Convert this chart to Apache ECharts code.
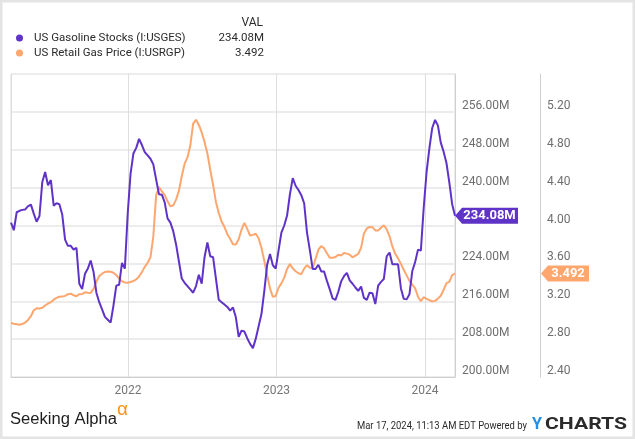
<!DOCTYPE html>
<html><head><meta charset="utf-8">
<script src="https://cdn.jsdelivr.net/npm/echarts@6/dist/echarts.min.js"></script>
<style>html,body{margin:0;padding:0;background:#fff}#c{width:635px;height:439px}</style>
</head><body><div id="c"></div><script>
// Weekly observations, first week ending 2021-03-19
const firstWeek = '2021-03-19';
const stockName = 'US Gasoline Stocks (I:USGES)';
const priceName = 'US Retail Gas Price (I:USRGP)';
// US gasoline stocks, millions of barrels
const gasolineStocks = [
 232.6, 231.0, 234.8, 235.1, 235.3, 235.4, 236.1, 236.4, 234.5, 232.8,
 234.0, 241.2, 243.3, 240.5, 241.6, 236.2, 236.7, 236.5, 234.3, 229.0,
 227.7, 227.7, 226.9, 227.3, 219.7, 218.6, 221.8, 222.9, 224.6, 222.2,
 217.8, 215.8, 214.3, 212.7, 212.1, 211.5, 215.1, 219.3, 219.5, 224.1,
 222.9, 234.4, 242.9, 247.2, 248.4, 250.3, 249.0, 247.5, 246.8, 246.1,
 244.9, 241.7, 238.6, 238.5, 236.9, 233.5, 232.6, 230.8, 228.0, 224.4,
 220.8, 219.9, 219.2, 218.5, 217.8, 219.2, 221.6, 219.7, 225.3, 228.4,
 225.5, 225.3, 220.8, 216.3, 215.8, 215.3, 214.8, 214.0, 214.7, 212.6,
 208.5, 209.8, 209.6, 208.2, 207.0, 206.1, 208.1, 210.7, 213.3, 218.2,
 223.7, 226.0, 223.6, 222.9, 226.7, 230.5, 232.0, 234.1, 238.6, 242.0,
 240.4, 239.5, 238.4, 236.7, 230.5, 226.8, 222.8, 222.8, 223.7, 222.3,
 222.3, 220.3, 218.5, 216.6, 216.3, 218.0, 220.2, 221.3, 222.0, 220.4,
 219.7, 218.9, 218.2, 219.1, 216.7, 216.3, 217.8, 217.7, 215.4, 219.3,
 220.1, 220.7, 225.5, 226.3, 223.8, 223.8, 223.8, 218.7, 216.5, 216.4,
 217.5, 222.4, 224.3, 226.9, 226.7, 235.7, 243.2, 248.3, 252.6, 254.3,
 253.1, 249.5, 247.6, 245.2, 241.1, 236.5, 234.08
];
// US retail gas price, USD per gallon
const gasPrices = [
 2.970, 2.962, 2.957, 2.952, 2.959, 2.976, 3.003, 3.042, 3.105, 3.125,
 3.124, 3.132, 3.155, 3.175, 3.190, 3.217, 3.236, 3.248, 3.249, 3.257,
 3.275, 3.280, 3.263, 3.253, 3.275, 3.277, 3.294, 3.289, 3.288, 3.331,
 3.406, 3.467, 3.491, 3.509, 3.515, 3.511, 3.501, 3.475, 3.438, 3.411,
 3.399, 3.396, 3.404, 3.413, 3.431, 3.461, 3.509, 3.563, 3.607, 3.664,
 3.885, 4.320, 4.405, 4.361, 4.320, 4.256, 4.204, 4.213, 4.273, 4.367,
 4.520, 4.653, 4.719, 4.844, 5.076, 5.116, 5.062, 4.983, 4.883, 4.761,
 4.589, 4.431, 4.249, 4.132, 4.043, 3.984, 3.908, 3.859, 3.802, 3.799,
 3.854, 3.957, 4.027, 3.964, 3.894, 3.901, 3.913, 3.866, 3.762, 3.625,
 3.474, 3.336, 3.246, 3.256, 3.343, 3.389, 3.449, 3.542, 3.592, 3.547,
 3.517, 3.495, 3.486, 3.545, 3.581, 3.553, 3.553, 3.647, 3.744, 3.782,
 3.760, 3.708, 3.659, 3.659, 3.668, 3.690, 3.684, 3.710, 3.703, 3.692,
 3.664, 3.681, 3.699, 3.764, 3.914, 3.969, 3.985, 3.982, 3.948, 3.948,
 3.977, 4.002, 3.960, 3.885, 3.779, 3.701, 3.653, 3.595, 3.532, 3.473,
 3.415, 3.375, 3.336, 3.247, 3.200, 3.245, 3.225, 3.211, 3.200, 3.204,
 3.230, 3.258, 3.321, 3.392, 3.405, 3.477, 3.492
];
const xTickLabels = ['2022', '2023', '2024'];

const DAY = 864e5;
const t0 = Date.parse(firstWeek + 'T00:00:00Z');
const dates = gasolineStocks.map((_, i) => t0 + i * 7 * DAY);
const lastDate = dates[dates.length - 1];
const lastStock = gasolineStocks[gasolineStocks.length - 1];
const lastPrice = gasPrices[gasPrices.length - 1];
const PURPLE = '#5f33c8';
const ORANGE = '#fda66e';
const legendVals = {};
legendVals[stockName] = lastStock.toFixed(2) + 'M';
legendVals[priceName] = lastPrice.toFixed(3);

function measure(text, font) {
  const ctx = document.createElement('canvas').getContext('2d');
  ctx.font = font; return ctx.measureText(text).width;
}
function fitText(text, font, x, y, width, fill, extra) {
  const w = measure(text, font);
  return Object.assign({type: 'text', x: x, y: y, scaleX: width / w, silent: true,
    style: {text: text, font: font, fill: fill, align: 'left', verticalAlign: 'middle',
            textAlign: 'left', textVerticalAlign: 'middle'}}, extra || {});
}

const chart = echarts.init(document.getElementById('c'), null, {renderer: 'canvas'});
const YEAR = 365 * DAY;
chart.setOption({
  animation: false,
  textStyle: {fontFamily: 'Roboto'},
  grid: {left: 11, right: 180, top: 74, bottom: 62, show: true, borderColor: '#dadada', borderWidth: 1},
  legend: {
    orient: 'vertical', left: 16, top: 31, padding: 0, itemWidth: 7, itemHeight: 7, icon: 'circle',
    itemGap: 1, selectedMode: false,
    data: [stockName, priceName],
    textStyle: {fontFamily: 'Roboto', fontSize: 11.5, color: '#2b2b2b', lineHeight: 14,
      rich: {n: {width: 190, padding: [0, 0, 0, 6], fontSize: 11.5, color: '#2b2b2b'},
             v: {width: 40, align: 'right', fontSize: 11.5, color: '#2b2b2b'}}},
    formatter: name => '{n|' + name + '}{v|' + legendVals[name] + '}'
  },
  xAxis: {
    type: 'time', min: dates[0], max: lastDate, minInterval: YEAR, maxInterval: YEAR,
    axisLine: {lineStyle: {color: '#cfcfcf'}}, axisTick: {show: false},
    axisLabel: {color: '#777', fontSize: 12, margin: 8, showMinLabel: false, showMaxLabel: false,
      formatter: v => { const y = String(new Date(v).getUTCFullYear()); return xTickLabels.indexOf(y) >= 0 ? y : ''; }},
    splitLine: {show: true, lineStyle: {color: '#dedede', width: 1}}
  },
  yAxis: [{
    type: 'value', position: 'right', min: 200, max: 264, interval: 8,
    axisLine: {show: true, lineStyle: {color: '#cfcfcf'}}, axisTick: {show: false},
    axisLabel: {color: '#6e6e6e', fontSize: 12, margin: 7, verticalAlign: 'bottom', showMaxLabel: false,
      formatter: v => Math.abs(v - lastStock) < 3 ? '' : v.toFixed(2) + 'M'},
    splitLine: {lineStyle: {color: '#ececec', width: 2}}
  }, {
    type: 'value', position: 'right', offset: 85, min: 2.4, max: 5.6, interval: 0.4,
    axisLine: {show: true, lineStyle: {color: '#cfcfcf'}}, axisTick: {show: false},
    axisLabel: {color: '#6e6e6e', fontSize: 12, margin: 7, verticalAlign: 'bottom', showMaxLabel: false,
      formatter: v => v.toFixed(2)},
    splitLine: {show: false}
  }],
  series: [{
    name: priceName, type: 'line', yAxisIndex: 1, showSymbol: false, z: 2,
    data: dates.map((d, i) => [d, gasPrices[i]]),
    lineStyle: {width: 2, color: ORANGE}, itemStyle: {color: ORANGE},
    markPoint: {
      silent: true, symbol: 'path://M0,8L7,0L48,0L48,16L7,16Z', symbolSize: [48, 16],
      symbolOffset: [110, 0], itemStyle: {color: ORANGE},
      label: {show: true, position: 'inside', offset: [3, 0], color: '#fff', fontWeight: 'bold', fontSize: 13,
        fontFamily: 'Roboto', formatter: lastPrice.toFixed(3)},
      data: [{coord: [lastDate, lastPrice]}]
    }
  }, {
    name: stockName, type: 'line', yAxisIndex: 0, showSymbol: false, z: 3,
    data: dates.map((d, i) => [d, gasolineStocks[i]]),
    lineStyle: {width: 2, color: PURPLE}, itemStyle: {color: PURPLE},
    markPoint: {
      silent: true, symbol: 'path://M0,8L7,0L63,0L63,16L7,16Z', symbolSize: [63, 16],
      symbolOffset: [31.5, 0], itemStyle: {color: PURPLE},
      label: {show: true, position: 'inside', offset: [3, 0], color: '#fff', fontWeight: 'bold', fontSize: 13,
        fontFamily: 'Roboto', formatter: lastStock.toFixed(2) + 'M'},
      data: [{coord: [lastDate, lastStock]}]
    }
  }],
  graphic: [
    {type: 'rect', silent: true, z: 100, shape: {x: 0, y: 0, width: 635, height: 439},
     style: {fill: 'none', stroke: '#e4e4e4', lineWidth: 5}},
    {type: 'text', x: 263, y: 23, silent: true,
     style: {text: 'VAL', font: '12px Roboto', fill: '#2b2b2b', align: 'right', verticalAlign: 'middle',
             textAlign: 'right', textVerticalAlign: 'middle'}},
    fitText('Seeking Alpha', '16px "Liberation Sans"', 10, 420, 107, '#1e1e1e'),
    {type: 'text', x: 117, y: 410, silent: true,
     style: {text: 'α', font: '19px "Liberation Sans"', fill: '#f7931e', align: 'left', verticalAlign: 'middle',
             textAlign: 'left', textVerticalAlign: 'middle'}},
    fitText('Mar 17, 2024, 11:13 AM EDT Powered by', '11px Roboto', 357, 426, 170, '#2b2b2b'),
    fitText('Y', 'bold 17px Roboto', 532, 425, 10, '#1f8fe8'),
    fitText('CHARTS', 'bold 17px Roboto', 545, 425, 82, '#2b2b2b')
  ]
});
</script></body></html>
